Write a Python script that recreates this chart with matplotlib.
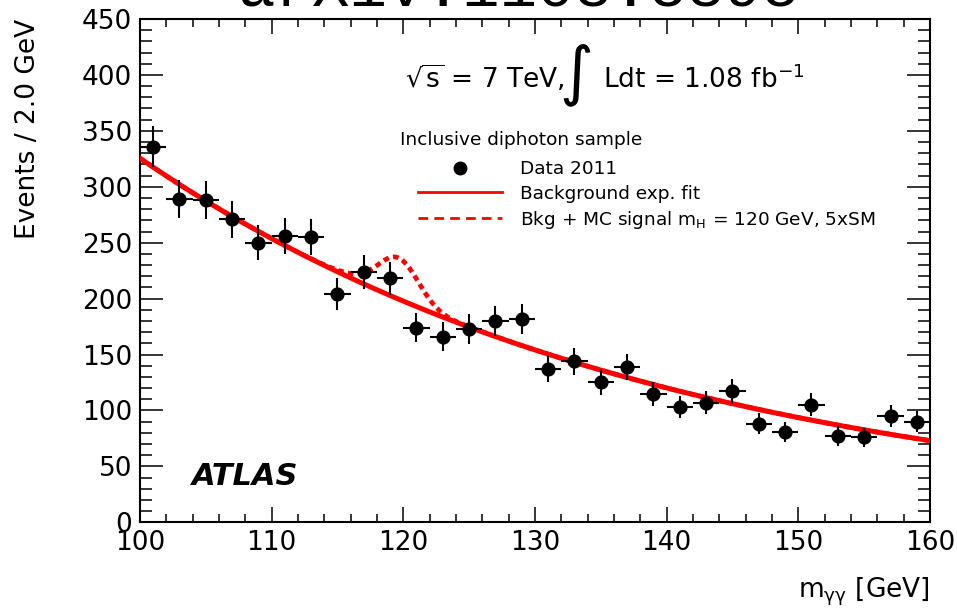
import numpy as np
import matplotlib
matplotlib.use("Agg")
import matplotlib.pyplot as plt
from matplotlib.lines import Line2D
from matplotlib.ticker import MultipleLocator

plt.rcParams["font.family"] = ["DejaVu Sans"]
plt.rcParams["mathtext.fontset"] = "dejavusans"

# Diphoton invariant mass spectrum, 2 GeV bins
BIN_WIDTH = 2.0
mass = [101, 103, 105, 107, 109, 111, 113, 115, 117, 119,
        121, 123, 125, 127, 129, 131, 133, 135, 137, 139,
        141, 143, 145, 147, 149, 151, 153, 155, 157, 159]
counts = [336, 289, 288, 271, 250, 256, 255, 204, 224, 218,
          174, 166, 173, 180, 182, 137, 144, 125, 139, 115,
          103, 107, 117, 88, 81, 105, 77, 76, 95, 90]

# Exponential background fit: N(m) = FIT_NORM * exp(FIT_SLOPE * (m - 100))
FIT_NORM = 325.5
FIT_SLOPE = -0.02492

# MC signal (mH = 120 GeV, 5xSM): narrow core plus low-mass tail
SIG_CORE = (34.0, 119.7, 1.5)   # amplitude, mean, sigma
SIG_TAIL = (4.0, 118.0, 2.0)

x_range = (100, 160)
y_range = (0, 450)


def background(m):
    return FIT_NORM * np.exp(FIT_SLOPE * (m - 100.0))


def signal(m):
    total = np.zeros_like(m)
    for amp, mu, sig in (SIG_CORE, SIG_TAIL):
        total += amp * np.exp(-0.5 * ((m - mu) / sig) ** 2)
    return total


fig = plt.figure(figsize=(9.57, 6.11), dpi=100)
ax = fig.add_axes([140 / 957, 1 - 522.3 / 611, 790 / 957, 503.3 / 611])

m_fine = np.linspace(x_range[0], x_range[1], 600)
red = "#ff0000"
ax.plot(m_fine, background(m_fine) + signal(m_fine), color=red, lw=3.4,
        linestyle=(0, (1.2, 0.9)), zorder=2)
ax.plot(m_fine, background(m_fine), color=red, lw=3.6, zorder=3)

counts_arr = np.array(counts, dtype=float)
ax.errorbar(mass, counts_arr, xerr=BIN_WIDTH / 2, yerr=np.sqrt(counts_arr),
            fmt="o", color="black", ms=9.2, elinewidth=1.5, capsize=0, zorder=4)

ax.set_xlim(*x_range)
ax.set_ylim(*y_range)
ax.xaxis.set_major_locator(MultipleLocator(10))
ax.xaxis.set_minor_locator(MultipleLocator(2))
ax.yaxis.set_major_locator(MultipleLocator(50))
ax.yaxis.set_minor_locator(MultipleLocator(10))
ax.tick_params(which="both", direction="in", top=True, right=True,
               labelsize=19, width=1.1, pad=5.5, color="black")
ax.tick_params(axis="x", which="major", length=10.8)
ax.tick_params(axis="x", which="minor", length=5.8)
ax.tick_params(axis="y", which="major", length=16.6)
ax.tick_params(axis="y", which="minor", length=8.6)
for sp in ax.spines.values():
    sp.set_linewidth(1.5)

# Axis titles
ax.text(1.0, -0.150, r"m$_{\mathregular{\gamma\gamma}}$ [GeV]",
        transform=ax.transAxes, ha="right", va="baseline", fontsize=19)
fig.text(28 / 957, 1 - 19 / 611, "Events / 2.0 GeV", rotation=90,
         ha="center", va="top", fontsize=19)

# Luminosity / energy label
ax.text(0.3354, 0.863, r"$\sqrt{\mathregular{s}}$ = 7 TeV,",
        transform=ax.transAxes, ha="left", va="baseline", fontsize=19)
ax.text(0.5519, 0.89, "\u222b", transform=ax.transAxes,
        ha="center", va="center", fontsize=47)
ax.text(0.586, 0.863, r"Ldt = 1.08 fb$^{-1}$", transform=ax.transAxes,
        ha="left", va="baseline", fontsize=19)

# Legend
ax.text(0.329, 0.7596, "Inclusive diphoton sample", transform=ax.transAxes,
        ha="left", va="center", fontsize=13.3)
handles = [
    Line2D([], [], marker="o", ls="none", color="black", ms=9),
    Line2D([], [], color=red, lw=2.0),
    Line2D([], [], color=red, lw=2.0, linestyle=(0, (3.5, 2.2))),
]
labels = ["Data 2011", "Background exp. fit",
          r"Bkg + MC signal m$_{\mathregular{H}}$ = 120 GeV, 5xSM"]
ax.legend(handles, labels, loc="upper left", bbox_to_anchor=(0.352, 0.719),
          frameon=False, fontsize=13.3, borderpad=0, borderaxespad=0,
          handlelength=4.55, handletextpad=0.98, labelspacing=0.33)

ax.text(0.0658, 0.074, "ATLAS", transform=ax.transAxes, ha="left",
        va="baseline", fontsize=22, fontweight="bold", fontstyle="italic")

# Reference tag along the top edge
fig.text(0.542, 1 - 6 / 611, "arXiv:1108.5895", family="Liberation Mono",
         fontsize=45, ha="center", va="baseline")

fig.savefig("out.png", dpi=100, facecolor="white")
